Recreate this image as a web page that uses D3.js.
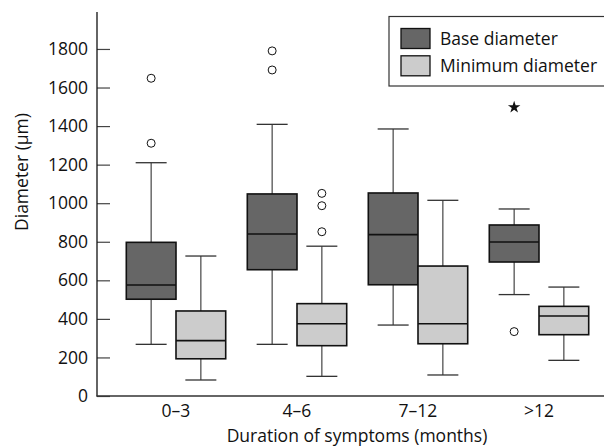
<!DOCTYPE html>
<html><head><meta charset="utf-8">
<script src="https://cdn.jsdelivr.net/npm/d3@7"></script>
<style>body{margin:0;background:#fff}svg{display:block}text{font-family:"Open Sans","Noto Sans",sans-serif;fill:#111}</style>
</head><body><svg id="c" width="604" height="447"></svg>
<script>
const categories = ["0–3", "4–6", "7–12", ">12"];
const seriesNames = ["Base diameter", "Minimum diameter"];
const seriesColors = ["#666666", "#cccccc"];
const yTicks = [0, 200, 400, 600, 800, 1000, 1200, 1400, 1600, 1800];
// Base diameter
const baseLow = [268, 268, 368, 526];
const baseQ1 = [502, 655, 577, 695];
const baseMedian = [576, 840, 837, 799];
const baseQ3 = [797, 1048, 1053, 887];
const baseHigh = [1210, 1409, 1385, 970];
const baseOutliers = [[1311, 1648], [1691, 1790], [], [334]];
const baseExtremes = [[], [], [], [1498]];
// Minimum diameter
const minLow = [83, 102, 109, 185];
const minQ1 = [193, 261, 271, 318];
const minMedian = [287, 375, 375, 415];
const minQ3 = [441, 479, 674, 465];
const minHigh = [726, 777, 1015, 565];
const minOutliers = [[], [852, 987, 1051], [], []];
const minExtremes = [[], [], [], []];

const series = [
  {name: seriesNames[0], color: seriesColors[0], low: baseLow, q1: baseQ1, med: baseMedian, q3: baseQ3, high: baseHigh, out: baseOutliers, ext: baseExtremes},
  {name: seriesNames[1], color: seriesColors[1], low: minLow, q1: minQ1, med: minMedian, q3: minQ3, high: minHigh, out: minOutliers, ext: minExtremes}
];

const FS = 17.5;
const svg = d3.select("#c");
const y = d3.scaleLinear().domain([0, 2000]).range([396, 10.4]);
const x = d3.scaleBand().domain(categories).range([115.5, 599.5]);
const boxW = 49.7;
const xs = d3.scaleBand().domain(seriesNames).range([x.bandwidth()/2 - boxW, x.bandwidth()/2 + boxW]);

// y axis
const yAxis = svg.append("g").attr("transform", "translate(97,0)")
  .call(d3.axisLeft(y).tickValues(yTicks).tickSize(-13).tickPadding(9).tickFormat(d3.format("d")));
yAxis.select(".domain").remove();
yAxis.selectAll(".tick line").attr("stroke", "#444").attr("stroke-width", 1.2);
yAxis.selectAll(".tick text").attr("font-size", FS).attr("fill", "#111").style("font-family", "'Open Sans'");
svg.append("line").attr("x1", 97).attr("x2", 97).attr("y1", 12).attr("y2", 396.5).attr("stroke", "#111").attr("stroke-width", 1.3);
svg.append("line").attr("x1", 96.5).attr("x2", 604).attr("y1", 396).attr("y2", 396).attr("stroke", "#333").attr("stroke-width", 1.3);

// category labels
svg.append("g").selectAll("text").data(categories).join("text")
  .attr("x", d => x(d) + x.bandwidth()/2).attr("y", 416.5)
  .attr("text-anchor", "middle").attr("font-size", FS).text(d => d);

svg.append("text").attr("x", 357).attr("y", 441.5).attr("text-anchor", "middle").attr("font-size", FS)
  .text("Duration of symptoms (months)");
svg.append("text").attr("transform", "translate(28,172) rotate(-90)").attr("text-anchor", "middle").attr("font-size", FS)
  .text("Diameter (µm)");

// boxes
series.forEach(s => {
  const g = svg.append("g");
  categories.forEach((c, i) => {
    const x0 = x(c) + xs(s.name);
    const cx = x0 + boxW/2;
    const capW = 31;
    g.append("line").attr("x1", cx).attr("x2", cx).attr("y1", y(s.high[i])).attr("y2", y(s.q3[i])).attr("stroke", "#444").attr("stroke-width", 1.2);
    g.append("line").attr("x1", cx).attr("x2", cx).attr("y1", y(s.q1[i])).attr("y2", y(s.low[i])).attr("stroke", "#444").attr("stroke-width", 1.2);
    g.append("line").attr("x1", cx - capW/2).attr("x2", cx + capW/2).attr("y1", y(s.high[i])).attr("y2", y(s.high[i])).attr("stroke", "#333").attr("stroke-width", 1.3);
    g.append("line").attr("x1", cx - capW/2).attr("x2", cx + capW/2).attr("y1", y(s.low[i])).attr("y2", y(s.low[i])).attr("stroke", "#333").attr("stroke-width", 1.3);
    g.append("rect").attr("x", x0).attr("width", boxW).attr("y", y(s.q3[i])).attr("height", y(s.q1[i]) - y(s.q3[i]))
      .attr("fill", s.color).attr("stroke", "#111").attr("stroke-width", 1.6);
    g.append("line").attr("x1", x0).attr("x2", x0 + boxW).attr("y1", y(s.med[i])).attr("y2", y(s.med[i])).attr("stroke", "#111").attr("stroke-width", 1.6);
    s.out[i].forEach(v => {
      g.append("circle").attr("cx", cx).attr("cy", y(v)).attr("r", 4).attr("fill", "#fff").attr("stroke", "#111").attr("stroke-width", 1);
    });
    s.ext[i].forEach(v => {
      g.append("path").attr("d", d3.symbol(d3.symbolStar, 48)()).attr("transform", `translate(${cx},${y(v)})`).attr("fill", "#111");
    });
  });
});

// legend
const lg = svg.append("g");
lg.append("rect").attr("x", 389).attr("y", 16.5).attr("width", 220).attr("height", 69.5).attr("fill", "#fff").attr("stroke", "#333").attr("stroke-width", 1.2);
seriesNames.forEach((n, i) => {
  lg.append("rect").attr("x", 401).attr("y", 28.5 + i*27.3).attr("width", 29).attr("height", 20).attr("fill", seriesColors[i]).attr("stroke", "#111").attr("stroke-width", 1.3);
  lg.append("text").attr("x", 440).attr("y", 45 + i*26.7).attr("font-size", FS).text(n);
});
</script></body></html>
